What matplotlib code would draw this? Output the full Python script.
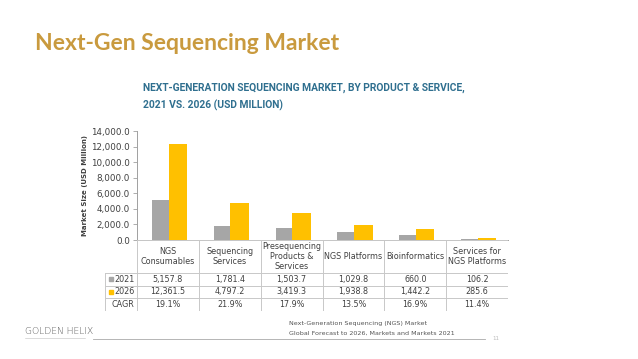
import matplotlib
matplotlib.use("Agg")
import matplotlib.pyplot as plt
from matplotlib.patches import Rectangle
import numpy as np

categories = ["NGS\nConsumables", "Sequencing\nServices", "Presequencing\nProducts &\nServices",
              "NGS Platforms", "Bioinformatics", "Services for\nNGS Platforms"]
v2021 = [5157.8, 1781.4, 1503.7, 1029.8, 660.0, 106.2]
v2026 = [12361.5, 4797.2, 3419.3, 1938.8, 1442.2, 285.6]
cagr = ["19.1%", "21.9%", "17.9%", "13.5%", "16.9%", "11.4%"]
yticks = [0, 2000, 4000, 6000, 8000, 10000, 12000, 14000]

W, H = 638, 359
fig = plt.figure(figsize=(W/100, H/100), dpi=100)
fig.patch.set_facecolor("white")

def fx(px): return px / W
def fy(py): return 1 - py / H

GOLD = "#FFC000"
GRAY = "#A6A6A6"
LINE = "#C8C8C8"
TXT = "#404040"

# Slide title
fig.text(fx(35), fy(44), "Next-Gen Sequencing Market", fontsize=16.5, fontweight="bold",
         color="#C99A3E", family="Lato", va="center", ha="left")

# Chart subtitle
fig.text(fx(143), fy(88), "NEXT-GENERATION SEQUENCING MARKET, BY PRODUCT & SERVICE,",
         fontsize=7.4, fontweight="bold", color="#2F6F8F", family="Roboto",
         va="center", ha="left")
fig.text(fx(143), fy(105), "2021 VS. 2026 (USD MILLION)",
         fontsize=7.4, fontweight="bold", color="#2F6F8F", family="Roboto",
         va="center", ha="left")

# Bar axes
x0, x1 = 137, 508
ytop, ybot = 131, 240
ax = fig.add_axes([fx(x0), fy(ybot), fx(x1) - fx(x0), fy(ytop) - fy(ybot)])
n = len(categories)
x = np.arange(n)
bw = 0.28
ax.bar(x - bw/2 + 0.02, v2021, width=bw, color=GRAY, zorder=2)
ax.bar(x + bw/2 + 0.02, v2026, width=bw + 0.02, color=GOLD, zorder=2)
ax.set_xlim(-0.5, n - 0.5)
ax.set_ylim(0, 14000)
ax.set_yticks(yticks)
ax.set_yticklabels([f"{t:,.1f}" for t in yticks], fontsize=6.3, color=TXT)
ax.set_xticks([])
for s in ["top", "right"]:
    ax.spines[s].set_visible(False)
ax.spines["left"].set_color("#A0A0A0")
ax.spines["bottom"].set_color("#A0A0A0")
ax.spines["left"].set_linewidth(0.7)
ax.spines["bottom"].set_linewidth(0.7)
ax.tick_params(axis="y", length=3, width=0.6, color="#A0A0A0", pad=2)
ax.set_ylabel("Market Size (USD Million)", fontsize=5, fontweight="bold", color=TXT, labelpad=2)
ax.patch.set_alpha(0)

# Table axes
tl = 105
cat_w = (x1 - x0) / n
left_units = -0.5 - (x0 - tl) / cat_w
tb = 311
tax = fig.add_axes([fx(tl), fy(tb), fx(x1) - fx(tl), fy(ybot) - fy(tb)])
tax.set_xlim(left_units, n - 0.5)
tax.set_ylim(tb, ybot)  # pixel rows
tax.axis("off")
rows = [240, 273, 285.5, 298, 311]
lw = 0.7
tax.plot([-0.5, n - 0.5], [rows[0], rows[0]], color=LINE, lw=lw)
for r in rows[1:]:
    tax.plot([left_units, n - 0.5], [r, r], color=LINE, lw=lw)
tax.plot([left_units, left_units], [rows[1], rows[-1]], color=LINE, lw=lw)
for i in range(n + 1):
    xv = -0.5 + i
    tax.plot([xv, xv], [rows[0], rows[-1]], color=LINE, lw=lw)

fs = 5.8
for i, c in enumerate(categories):
    tax.text(i, (rows[0] + rows[1]) / 2, c, ha="center", va="center", fontsize=fs,
             color=TXT, linespacing=1.2)
    tax.text(i, (rows[1] + rows[2]) / 2, f"{v2021[i]:,.1f}", ha="center", va="center", fontsize=fs, color=TXT)
    tax.text(i, (rows[2] + rows[3]) / 2, f"{v2026[i]:,.1f}", ha="center", va="center", fontsize=fs, color=TXT)
    tax.text(i, (rows[3] + rows[4]) / 2, cagr[i], ha="center", va="center", fontsize=fs, color=TXT)

lab_x = -0.5 - 0.04
tax.text(lab_x, (rows[1] + rows[2]) / 2, "2021", ha="right", va="center", fontsize=fs, color=TXT)
tax.text(lab_x, (rows[2] + rows[3]) / 2, "2026", ha="right", va="center", fontsize=fs, color=TXT)
tax.text(lab_x, (rows[3] + rows[4]) / 2, "CAGR", ha="right", va="center", fontsize=fs, color=TXT)
sq = 0.06
for r0, col in [((rows[1] + rows[2]) / 2, GRAY), ((rows[2] + rows[3]) / 2, GOLD)]:
    tax.add_patch(Rectangle((left_units + 0.07, r0 - 2), sq, 4, color=col, clip_on=False))

# Footer
fig.text(fx(25), fy(331), "GOLDEN HELIX", fontsize=6.6, color="#555555", family="DejaVu Sans",
         fontweight="light", va="center", ha="left")
fig.add_artist(plt.Line2D([fx(25), fx(85)], [fy(338), fy(338)], color="#C0C0C0", lw=0.4))
fig.add_artist(plt.Line2D([fx(93), fx(485)], [fy(339), fy(339)], color="#AAAAAA", lw=0.6))
fig.text(fx(492), fy(339), "11", fontsize=4, color="#BBBBBB", va="center", ha="left")
fig.text(fx(289), fy(323), "Next-Generation Sequencing (NGS) Market", fontsize=4.6,
         color="#555555", va="center", ha="left")
fig.text(fx(289), fy(333), "Global Forecast to 2026, Markets and Markets 2021", fontsize=4.6,
         color="#555555", va="center", ha="left")

fig.savefig("out.png", dpi=100, facecolor="white")
